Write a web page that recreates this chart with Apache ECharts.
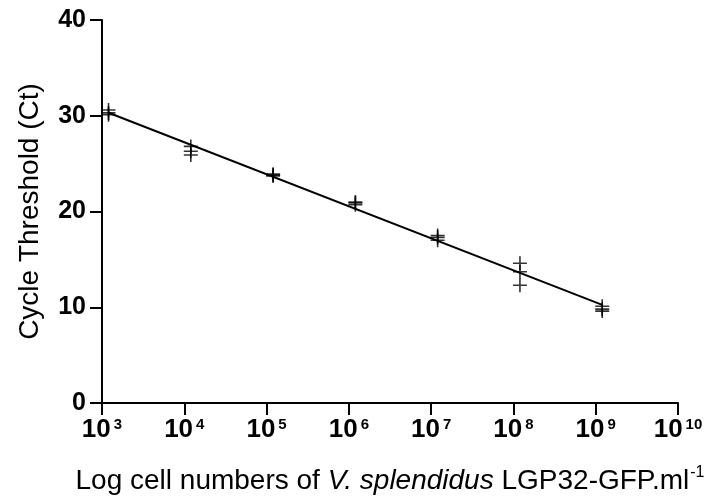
<!DOCTYPE html>
<html><head><meta charset="utf-8">
<script src="https://cdn.jsdelivr.net/npm/echarts@6/dist/echarts.min.js"></script>
<style>html,body{margin:0;padding:0;background:#fff}#c{width:704px;height:499px}</style>
</head><body><div id="c"></div>
<script>
// Cell numbers (per ml) at each dilution, and replicate Ct values
var cellNumbers = [1.2e3, 1.2e4, 1.2e5, 1.2e6, 1.2e7, 1.2e8, 1.2e9];
var ctRep1 = [30.6, 26.8, 23.9, 21.0, 17.5, 14.6, 10.1];
var ctRep2 = [30.3, 26.3, 23.8, 20.9, 17.3, 13.7, 9.8];
var ctRep3 = [30.1, 25.9, 23.7, 20.7, 17.0, 12.3, 9.6];
var xExponents = [3, 4, 5, 6, 7, 8, 9, 10];
var yTicks = [0, 10, 20, 30, 40];

var pts = [];
[ctRep1, ctRep2, ctRep3].forEach(function (rep) {
  rep.forEach(function (v, i) { pts.push([cellNumbers[i], v]); });
});
// linear regression of Ct on log10(cells)
var n = pts.length, sx = 0, sy = 0, sxx = 0, sxy = 0;
pts.forEach(function (p) { var lx = Math.log10(p[0]); sx += lx; sy += p[1]; sxx += lx * lx; sxy += lx * p[1]; });
var slope = (n * sxy - sx * sy) / (n * sxx - sx * sx);
var icpt = (sy - slope * sx) / n;
var x0 = cellNumbers[0], x1 = cellNumbers[cellNumbers.length - 1];
var fitLine = [[x0, icpt + slope * Math.log10(x0)], [x1, icpt + slope * Math.log10(x1)]];

var plusPath = 'path://M0,6.2L14,6.2L14,7.8L0,7.8Z M6.2,0L7.8,0L7.8,14L6.2,14Z';
var font = 'Liberation Sans, Arial, sans-serif';

var chart = echarts.init(document.getElementById('c'), null, { renderer: 'canvas' });
chart.setOption({
  animation: false,
  backgroundColor: '#fff',
  grid: { left: 102, right: 26, top: 20, bottom: 96, containLabel: false, outerBoundsMode: 'none' },
  xAxis: {
    type: 'log', logBase: 10, min: 1e3, max: 1e10,
    axisLine: { lineStyle: { color: '#000', width: 2 } },
    axisTick: { show: true, length: 12, lineStyle: { color: '#000', width: 2 } },
    splitLine: { show: false },
    minorTick: { show: false },
    axisLabel: {
      margin: 14, color: '#000', fontFamily: font, hideOverlap: false,
      formatter: function (v) { var e = Math.round(Math.log10(v)); return '{b|10}{s|' + e + '}'; },
      rich: {
        b: { fontSize: 26, fontWeight: 'bold', fontFamily: font, color: '#000', lineHeight: 26, verticalAlign: 'bottom' },
        s: { fontSize: 15, fontWeight: 'bold', fontFamily: font, color: '#000', padding: [0, 0, 11, 3], verticalAlign: 'bottom' }
      }
    },
    name: '{n|Log cell numbers of }{i|V. splendidus}{n| LGP32-GFP.ml}{s|-1}',
    nameLocation: 'middle', nameGap: 62,
    nameTextStyle: {
      rich: {
        n: { fontSize: 28, fontFamily: font, color: '#000', verticalAlign: 'bottom', lineHeight: 28 },
        i: { fontSize: 28, fontFamily: font, fontStyle: 'italic', color: '#000', verticalAlign: 'bottom', lineHeight: 28 },
        s: { fontSize: 16, fontFamily: font, color: '#000', padding: [0, 0, 14, 1], verticalAlign: 'bottom' }
      }
    }
  },
  yAxis: {
    type: 'value', min: 0, max: 40, interval: 10,
    axisLine: { show: true, lineStyle: { color: '#000', width: 2 } },
    axisTick: { show: true, length: 12, lineStyle: { color: '#000', width: 2 } },
    splitLine: { show: false },
    axisLabel: { margin: 16, color: '#000', fontSize: 25, fontWeight: 'bold', fontFamily: font },
    name: 'Cycle Threshold (Ct)', nameLocation: 'middle', nameGap: 58,
    nameTextStyle: { fontSize: 28, fontFamily: font, color: '#000' }
  },
  series: [
    {
      type: 'line', data: fitLine, symbol: 'none',
      lineStyle: { color: '#000', width: 2 }, z: 2
    },
    {
      type: 'scatter', data: pts, symbol: plusPath, symbolSize: [14, 14],
      itemStyle: { color: '#000' }, z: 3
    }
  ]
});
</script></body></html>
